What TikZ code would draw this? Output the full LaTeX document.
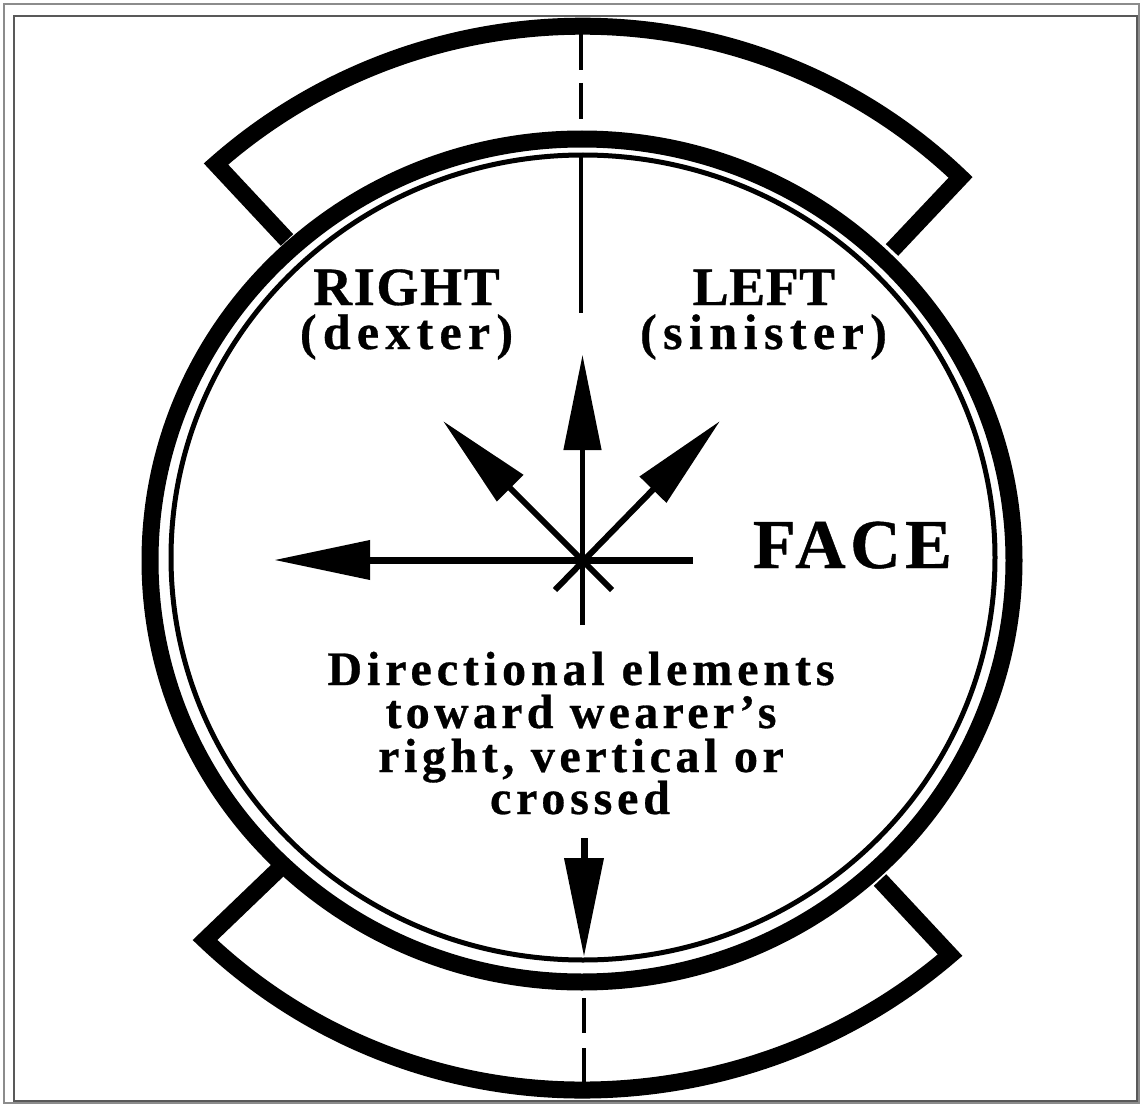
\documentclass[tikz,border=0pt]{standalone}
\usepackage{fontspec}
\setmainfont{Liberation Serif}
\usetikzlibrary{arrows.meta}
\tikzset{
  thickring/.style={line width=17pt,black},
  strap/.style={line width=17pt,black,miter limit=10},
  thinring/.style={line width=5pt,black},
  axis/.style={line width=4.5pt,black},
  shaft/.style={line width=7pt,black},
  label/.style={inner sep=0pt,anchor=base,font=\bfseries},
}
\newcommand{\txt}[3]{\fontsize{#1}{#1}\selectfont\addfontfeature{LetterSpace=#2,FakeBold=0.6}#3}
\begin{document}
\begin{tikzpicture}[x=1pt,y=1pt]
\useasboundingbox (0,0) rectangle (1144,-1105);
\fill[white] (0,0) rectangle (1144,-1105);
\draw[line width=1.5pt,black!45] (4,-4) rectangle (1139,-1103);
\draw[line width=2.5pt,black!65] (14,-16) rectangle (1137,-1101);
% coordinates
\coordinate (hub) at (582.5,-560);
\coordinate (jTL) at (287,-240);
\coordinate (cTL) at (216,-164);
\coordinate (jTR) at (892,-250);
\coordinate (jBL) at (280,-868);
\coordinate (cBL) at (205,-940);
\coordinate (jBR) at (880,-880);
\coordinate (upTip) at (582.5,-355);
\coordinate (upEnd) at (582.5,-625);
\coordinate (leftTip) at (274,-560);
\coordinate (rightEnd) at (693,-560);
\coordinate (nwTip) at (443,-421);
\coordinate (nwEnd) at (555,-590);
\coordinate (neTip) at (720,-421);
\coordinate (neEnd) at (612,-590);
\coordinate (dnStart) at (584,-838);
\coordinate (dnTip) at (584,-957);
% rings
\draw[thickring] (582,-560.5) ellipse [x radius=432,y radius=421.5];
\draw[thinring] (583,-557.5) ellipse [x radius=412,y radius=402.5];
% straps
\draw[strap] (jTL) -- (cTL) arc[start angle=132.1,end angle=90,x radius=547,y radius=534]
  arc[start angle=90,end angle=45.8,x radius=542,y radius=534] -- (jTR);
\draw[strap] (jBL) -- (cBL) arc[start angle=225.8,end angle=270,x radius=541,y radius=530]
  arc[start angle=270,end angle=311.8,x radius=552,y radius=530] -- (jBR);
% vertical axis pieces
\draw[axis] (581,-33) -- (581,-70);
\draw[axis] (581,-83) -- (581,-119);
\draw[axis] (581,-157) -- (581,-313);
\draw[axis] (584,-998) -- (584,-1033);
\draw[axis] (584,-1048) -- (584,-1084);
% arrows
\draw[axis,-{Triangle[length=95pt,width=37pt]}] (upEnd) -- (upTip);
\draw[shaft,-{Triangle[length=96pt,width=38pt]}] (rightEnd) -- (leftTip);
\draw[axis,line width=6pt,-{Triangle[length=95pt,width=36pt]}] (neEnd) -- (nwTip);
\draw[axis,line width=6pt,-{Triangle[length=96pt,width=36pt]}] (nwEnd) -- (neTip);
\draw[shaft,-{Triangle[length=99pt,width=38pt]}] (dnStart) -- (dnTip);
\fill (hub) circle (6pt);
% text
\node[label] (tRight) at (406.5,-305) {\txt{54}{3}{RIGHT}};
\node[label] (tDexter) at (406.5,-349) {\txt{50}{12.5}{(dexter)}};
\node[label] (tLeft) at (764,-305) {\txt{54}{1}{LEFT}};
\node[label] (tSinister) at (763.5,-349) {\txt{50}{12.9}{(sinister)}};
\node[label] (tFace) at (852.5,-568) {\txt{70}{6.5}{FACE}};
\node[label] (tA) at (581,-685) {\txt{48}{10.2}{Directional elements}};
\node[label] (tB) at (581,-728) {\txt{48}{8.9}{toward wearer’s}};
\node[label] (tC) at (581,-772) {\txt{48}{9.5}{right, vertical or}};
\node[label] (tD) at (580,-814) {\txt{48}{10}{crossed}};
\end{tikzpicture}
\end{document}
